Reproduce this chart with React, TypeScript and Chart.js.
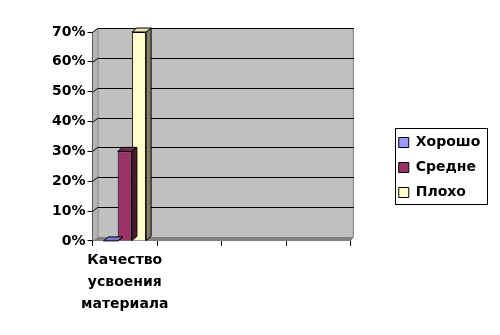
import React, { useEffect, useRef } from "react";
import { Chart, registerables } from "chart.js";

Chart.register(...registerables);

const categories: (string | string[])[] = [["Качество", "усвоения", "материала"], "", "", ""];
const seriesNames = ["Хорошо", "Средне", "Плохо"];
const good = [0, null, null, null];
const medium = [0.3, null, null, null];
const bad = [0.7, null, null, null];
const yTicks = [0, 0.1, 0.2, 0.3, 0.4, 0.5, 0.6, 0.7];

const frontColors = ["#9999FF", "#993366", "#FFFFCC"];
const topColors = ["#7777CC", "#7A2952", "#E6E6B8"];
const sideColors = ["#4C4C80", "#4C1933", "#808066"];

const DX = 5;
const DY = -4;
const LEGEND_SHIFT_X = 37;
const LEGEND_SHIFT_Y = -8;
const FONT = "'DejaVu Sans', sans-serif";

const wallPlugin = {
  id: "wall3d",
  afterLayout(chart: any) {
    const lg = chart.legend;
    if (!lg) return;
    lg.left += LEGEND_SHIFT_X;
    lg.right += LEGEND_SHIFT_X;
    lg.top += LEGEND_SHIFT_Y;
    lg.bottom += LEGEND_SHIFT_Y;
  },
  beforeDatasetsDraw(chart: any) {
    const { ctx, chartArea } = chart;
    const { left, right, top, bottom } = chartArea;
    const yScale = chart.scales.y;
    ctx.save();
    ctx.fillStyle = "#C0C0C0";
    ctx.fillRect(left + DX, top + DY, right - left - DX + 3, bottom - top);
    ctx.fillStyle = "#B4B4B4";
    ctx.beginPath();
    ctx.moveTo(left, top);
    ctx.lineTo(left + DX, top + DY);
    ctx.lineTo(left + DX, bottom + DY);
    ctx.lineTo(left, bottom);
    ctx.closePath();
    ctx.fill();
    ctx.fillStyle = "#808080";
    ctx.beginPath();
    ctx.moveTo(left, bottom);
    ctx.lineTo(left + DX, bottom + DY);
    ctx.lineTo(right + 3, bottom + DY);
    ctx.lineTo(right, bottom);
    ctx.closePath();
    ctx.fill();
    ctx.strokeStyle = "#808080";
    ctx.lineWidth = 1;
    ctx.strokeRect(left + DX + 0.5, top + DY + 0.5, right - left - DX + 2, bottom - top);
    ctx.strokeStyle = "#000000";
    ctx.lineWidth = 1;
    for (const v of yTicks) {
      if (v === 0) continue;
      const y = Math.round(yScale.getPixelForValue(v)) + 0.5;
      ctx.beginPath();
      ctx.moveTo(left, y);
      ctx.lineTo(left + DX, y + DY);
      ctx.lineTo(right + 3, y + DY);
      ctx.stroke();
    }
    ctx.restore();
  },
  afterDatasetsDraw(chart: any) {
    const { ctx } = chart;
    ctx.save();
    ctx.lineWidth = 1;
    ctx.strokeStyle = "#000000";
    chart.data.datasets.forEach((ds: any, i: number) => {
      const meta = chart.getDatasetMeta(i);
      meta.data.forEach((el: any, j: number) => {
        if (ds.data[j] === null || ds.data[j] === undefined) return;
        const w = el.width;
        const l = el.x - w / 2;
        const r = el.x + w / 2;
        const t = el.y;
        const b = el.base;
        ctx.fillStyle = sideColors[i];
        ctx.beginPath();
        ctx.moveTo(r, t);
        ctx.lineTo(r + DX, t + DY);
        ctx.lineTo(r + DX, b + DY);
        ctx.lineTo(r, b);
        ctx.closePath();
        ctx.fill();
        ctx.stroke();
        ctx.fillStyle = topColors[i];
        ctx.beginPath();
        ctx.moveTo(l, t);
        ctx.lineTo(l + DX, t + DY);
        ctx.lineTo(r + DX, t + DY);
        ctx.lineTo(r, t);
        ctx.closePath();
        ctx.fill();
        ctx.stroke();
      });
    });
    ctx.restore();
  },
  afterDraw(chart: any) {
    const legend = chart.legend;
    if (!legend || !legend.legendHitBoxes || !legend.legendHitBoxes.length) return;
    const boxes = legend.legendHitBoxes;
    let minL = Infinity, maxR = -Infinity, minT = Infinity, maxB = -Infinity;
    for (const h of boxes) {
      minL = Math.min(minL, h.left);
      maxR = Math.max(maxR, h.left + h.width);
      minT = Math.min(minT, h.top);
      maxB = Math.max(maxB, h.top + h.height);
    }
    const { ctx } = chart;
    ctx.save();
    ctx.strokeStyle = "#000000";
    ctx.lineWidth = 1;
    ctx.strokeRect(Math.round(minL - 4) + 0.5, Math.round(minT - 8) + 0.5, Math.round(maxR - minL + 10), Math.round(maxB - minT + 12));
    ctx.restore();
  },
};

export default function App() {
  const ref = useRef<HTMLCanvasElement | null>(null);
  useEffect(() => {
    document.body.style.margin = "0";
    if (!ref.current) return;
    const chart = new Chart(ref.current, {
      type: "bar",
      data: {
        labels: categories as any,
        datasets: [
          { label: seriesNames[0], data: good, backgroundColor: frontColors[0], borderColor: "#000", borderWidth: 1 },
          { label: seriesNames[1], data: medium, backgroundColor: frontColors[1], borderColor: "#000", borderWidth: 1 },
          { label: seriesNames[2], data: bad, backgroundColor: frontColors[2], borderColor: "#000", borderWidth: 1 },
        ] as any,
      },
      options: {
        animation: false,
        responsive: false,
        maintainAspectRatio: false,
        layout: { padding: { left: 50, top: 32, bottom: 16, right: 49 } },
        datasets: { bar: { categoryPercentage: 0.66, barPercentage: 1 } } as any,
        plugins: {
          legend: {
            position: "right",
            align: "center",
            labels: {
              color: "#000",
              font: { family: FONT, size: 14, weight: "bold" },
              boxWidth: 10,
              boxHeight: 10,
              padding: 11,
              generateLabels: (chart: any) =>
                chart.data.datasets.map((ds: any, i: number) => ({
                  text: ds.label,
                  fillStyle: frontColors[i],
                  strokeStyle: "#000",
                  lineWidth: 1,
                  datasetIndex: i,
                  fontColor: "#000",
                })),
            },
          },
          tooltip: { enabled: false },
        },
        scales: {
          x: {
            grid: { display: true, drawOnChartArea: false, offset: true, color: "#000", tickLength: 5 },
            border: { display: true, color: "#000" },
            ticks: { color: "#000", font: { family: FONT, size: 14, weight: "bold", lineHeight: 1.55 }, maxRotation: 0, autoSkip: false, padding: 4 },
          },
          y: {
            min: 0,
            max: 0.7,
            grid: { display: true, drawOnChartArea: false, color: "#000", tickLength: 5 },
            border: { display: true, color: "#000" },
            ticks: {
              stepSize: 0.1,
              color: "#000",
              font: { family: FONT, size: 14, weight: "bold" },
              padding: 2,
              callback: (v: any) => Math.round(Number(v) * 100) + "%",
            },
          },
        },
      },
      plugins: [wallPlugin],
    });
    return () => chart.destroy();
  }, []);
  return <canvas ref={ref} width={500} height={335} style={{ display: "block" }} />;
}
